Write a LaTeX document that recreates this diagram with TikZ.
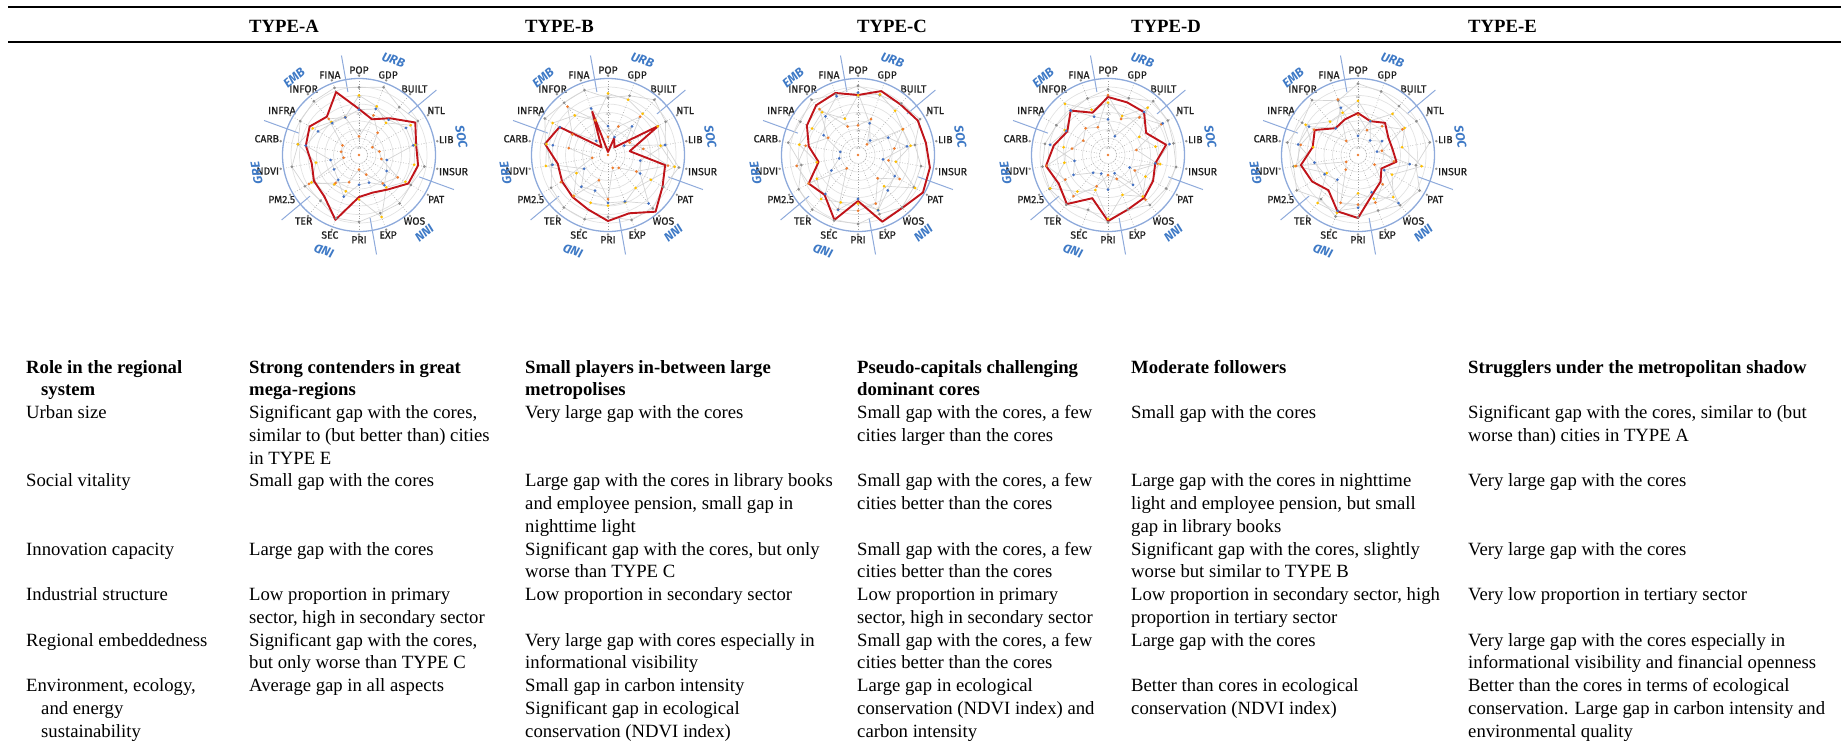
\documentclass[tikz,border=0pt]{standalone}
\usepackage{fontspec}
\setmainfont{Liberation Serif}
\newfontfamily\chartfont{Fira Sans}[FakeBold=0.6]
\newfontfamily\grpfont{Fira Sans}
\usetikzlibrary{calc}
\definecolor{redc}{HTML}{C0141A}
\definecolor{bluedot}{HTML}{4472C4}
\definecolor{orangedot}{HTML}{ED7D31}
\definecolor{yellowdot}{HTML}{FFC000}
\definecolor{graydot}{HTML}{8E8E8E}
\definecolor{ringc}{HTML}{E2E2E2}
\definecolor{axc}{HTML}{A0A0A0}
\definecolor{webc}{HTML}{D4D4D4}
\definecolor{circc}{HTML}{8EAADB}
\definecolor{grpc}{HTML}{3F7AC6}
\tikzset{
  txt/.style={font=\fontsize{18.7}{22}\selectfont, inner sep=0pt, anchor=base west, text=black},
  hdr/.style={txt, font=\fontsize{18.7}{22}\selectfont\bfseries},
  ring/.style={draw=ringc, line width=0.7pt},
  axisln/.style={draw=axc, line width=0.6pt, dotted},
  outerc/.style={draw=circc, line width=1.3pt},
  sepln/.style={draw=circc, line width=1pt},
  webln/.style={draw=webc, line width=0.7pt},
  redln/.style={draw=redc, line width=1.9pt, line join=round},
  axlab/.style={font=\chartfont\fontsize{10.4}{12}\selectfont, inner sep=0.5pt, text=black!88},
  grplab/.style={font=\grpfont\fontsize{12.5}{14}\selectfont\bfseries\itshape, inner sep=0pt, text=grpc},
  ticklab/.style={font=\grpfont\fontsize{3}{3.2}\selectfont, inner sep=0pt, text=black!55},
  rulel/.style={draw=black, line width=2pt},
}
\newcommand\cell[5][txt]{%
  \foreach \ln [count=\i from 0] in {#5}{%
    \node[#1] (#2-\i) at (#3, {-(373+22.75*(#4+\i))}) {\ln};
  }%
}
\newcommand\plotseries[5]{% name, color, rmin, rspan, key
  \foreach \k in {0,...,17}{%
    \pgfmathsetmacro\ang{90-20*\k}%
    \pgfmathsetmacro\rr{#3+#4*rnd}%
    \coordinate (#1-#5\k) at (\ang:\rr);
  }%
  \draw[webln] (#1-#50) \foreach \k in {1,...,17}{ -- (#1-#5\k)} -- cycle;
}
\newcommand\plotdots[3]{% name, key, color
  \foreach \k in {0,...,17}{\fill[#3] (#1-#2\k) circle[radius=1.5];}%
}
\newcommand\radar[5]{% name, cx, cy, red radii, seed
\begin{scope}[shift={(#2,-#3)}]
  \foreach \k in {1,...,8}{\draw[ring] (0,0) circle[radius=8.5*\k];}
  \foreach \lab [count=\k from 0] in {POP,GDP,BUILT,NTL,LIB,INSUR,PAT,WOS,EXP,PRI,SEC,TER,PM2.5,NDVI,CARB,INFRA,INFOR,FINA}{%
    \pgfmathsetmacro\ang{90-20*\k}%
    \pgfmathtruncatemacro\anc{mod(630-20*\k,360)}%
    \draw[axisln] (\ang:8.5) -- (\ang:79);
    \fill[graydot] (\ang:79.5) circle[radius=1.3];
    \node[axlab, anchor=\anc] (#1-lab\k) at (\ang:80.5) {\lab};
  }
  \draw[outerc] (0,0) circle[radius=76.5];
  \foreach \s in {50,110,170,230,290,350}{\draw[sepln] ({90-\s}:64) -- ({90-\s}:101);}
  \foreach \g/\t/\rg in {20/URB/101,80/SOC/104,140/INN/102,200/IND/102,260/GRE/104,320/EMB/101}{%
    \node[grplab, rotate=-\g] (#1-grp\t) at ({90-\g}:\rg) {\t};
  }
  \foreach \v [count=\k from 1] in {-2.5,-2,-1.5,-1,-0.5,0,0.5,1}{%
    \node[ticklab] (#1-tick\k) at (0,{8.5*\k-2}) {\v};
  }
  \pgfmathsetseed{#5}
  \plotseries{#1}{graydot}{57}{16}{g}
  \plotseries{#1}{yellowdot}{36}{32}{y}
  \plotseries{#1}{orangedot}{12}{52}{o}
  \plotseries{#1}{bluedot}{18}{46}{b}
  \foreach \r [count=\k from 0] in {#4}{%
    \coordinate (#1-r\k) at ({90-20*\k}:\r);
  }
  \draw[redln] (#1-r0) \foreach \k in {1,...,17}{ -- (#1-r\k)} -- cycle;
  \plotdots{#1}{g}{graydot}
  \plotdots{#1}{y}{yellowdot}
  \plotdots{#1}{o}{orangedot}
  \plotdots{#1}{b}{bluedot}
  \fill[orangedot] (0,0) circle[radius=1.4];
\end{scope}
}
\begin{document}
\begin{tikzpicture}[x=1pt,y=1pt]
\useasboundingbox (0,0) rectangle (1841,-748);
% rules
\draw[rulel] (8,-7) -- (1841,-7);
\draw[rulel] (8,-42) -- (1841,-42);
% type headers
\node[hdr] (tA) at (249,-32) {TYPE-A};
\node[hdr] (tB) at (525,-32) {TYPE-B};
\node[hdr] (tC) at (857,-32) {TYPE-C};
\node[hdr] (tD) at (1131,-32) {TYPE-D};
\node[hdr] (tE) at (1468,-32) {TYPE-E};
% radar charts
\radar{A}{359}{155}{46,38,48,65,58,60,57,45,40,42,69,54,52,48,54,57,50,67}{11}
\radar{B}{608}{155}{3,18,10,58,22,58,63,74,62,66,58,55,53,51,64,56,10,46}{23}
\radar{C}{858}{155}{60,68,66,69,69,73,75,69,71,46,69,52,57,40,50,59,65,66}{37}
\radar{D}{1108}{155}{58,56,56,44,59,48,52,56,58,66,46,64,57,63,55,47,58,45}{41}
\radar{E}{1358}{155}{42,36,42,35,35,39,27,35,42,63,60,46,53,58,46,50,35,38}{53}
% table: header row
\cell[hdr]{h0}{26}{0}{{Role in the regional},{\hspace*{15pt}system}}
\cell[hdr]{h1}{249}{0}{{Strong contenders in great},{mega-regions}}
\cell[hdr]{h2}{525}{0}{{Small players in-between large},{metropolises}}
\cell[hdr]{h3}{857}{0}{{Pseudo-capitals challenging},{dominant cores}}
\cell[hdr]{h4}{1131}{0}{{Moderate followers}}
\cell[hdr]{h5}{1468}{0}{{Strugglers under the metropolitan shadow}}
% urban size
\cell{u0}{26}{2}{{Urban size}}
\cell{u1}{249}{2}{{Significant gap with the cores,},{similar to (but better than) cities},{in TYPE E}}
\cell{u2}{525}{2}{{Very large gap with the cores}}
\cell{u3}{857}{2}{{Small gap with the cores, a few},{cities larger than the cores}}
\cell{u4}{1131}{2}{{Small gap with the cores}}
\cell{u5}{1468}{2}{{Significant gap with the cores, similar to (but},{worse than) cities in TYPE A}}
% social vitality
\cell{s0}{26}{5}{{Social vitality}}
\cell{s1}{249}{5}{{Small gap with the cores}}
\cell{s2}{525}{5}{{Large gap with the cores in library books},{and employee pension, small gap in},{nighttime light}}
\cell{s3}{857}{5}{{Small gap with the cores, a few},{cities better than the cores}}
\cell{s4}{1131}{5}{{Large gap with the cores in nighttime},{light and employee pension, but small},{gap in library books}}
\cell{s5}{1468}{5}{{Very large gap with the cores}}
% innovation
\cell{i0}{26}{8}{{Innovation capacity}}
\cell{i1}{249}{8}{{Large gap with the cores}}
\cell{i2}{525}{8}{{Significant gap with the cores, but only},{worse than TYPE C}}
\cell{i3}{857}{8}{{Small gap with the cores, a few},{cities better than the cores}}
\cell{i4}{1131}{8}{{Significant gap with the cores, slightly},{worse but similar to TYPE B}}
\cell{i5}{1468}{8}{{Very large gap with the cores}}
% industrial
\cell{d0}{26}{10}{{Industrial structure}}
\cell{d1}{249}{10}{{Low proportion in primary},{sector, high in secondary sector}}
\cell{d2}{525}{10}{{Low proportion in secondary sector}}
\cell{d3}{857}{10}{{Low proportion in primary},{sector, high in secondary sector}}
\cell{d4}{1131}{10}{{Low proportion in secondary sector, high},{proportion in tertiary sector}}
\cell{d5}{1468}{10}{{Very low proportion in tertiary sector}}
% regional embeddedness
\cell{r0}{26}{12}{{Regional embeddedness}}
\cell{r1}{249}{12}{{Significant gap with the cores,},{but only worse than TYPE C}}
\cell{r2}{525}{12}{{Very large gap with cores especially in},{informational visibility}}
\cell{r3}{857}{12}{{Small gap with the cores, a few},{cities better than the cores}}
\cell{r4}{1131}{12}{{Large gap with the cores}}
\cell{r5}{1468}{12}{{Very large gap with the cores especially in},{informational visibility and financial openness}}
% environment
\cell{e0}{26}{14}{{Environment, ecology,},{\hspace*{15pt}and energy},{\hspace*{15pt}sustainability}}
\cell{e1}{249}{14}{{Average gap in all aspects}}
\cell{e2}{525}{14}{{Small gap in carbon intensity},{Significant gap in ecological},{conservation (NDVI index)}}
\cell{e3}{857}{14}{{Large gap in ecological},{conservation (NDVI index) and},{carbon intensity}}
\cell{e4}{1131}{14}{{Better than cores in ecological},{conservation (NDVI index)}}
\cell{e5}{1468}{14}{{Better than the cores in terms of ecological},{conservation. Large gap in carbon intensity and},{environmental quality}}
\end{tikzpicture}
\end{document}
